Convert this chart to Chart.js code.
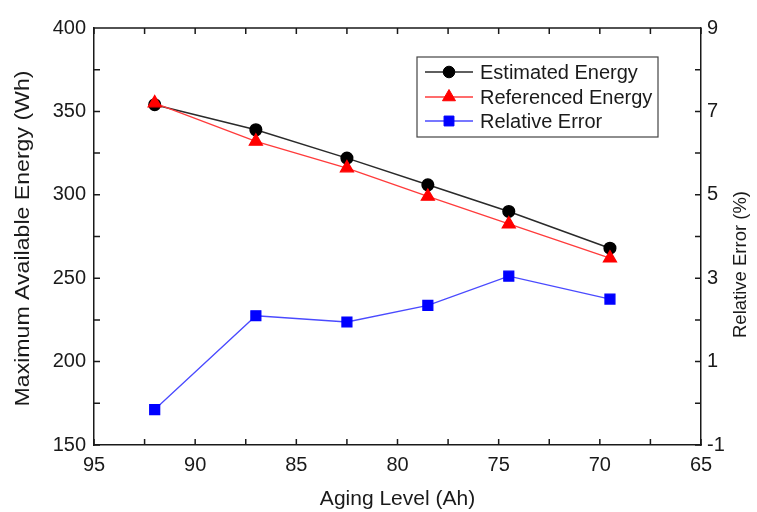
<!DOCTYPE html>
<html>
<head>
<meta charset="utf-8">
<script src="https://cdn.jsdelivr.net/npm/chart.js@4.4.1/dist/chart.umd.min.js"></script>
<style>
  html, body { margin: 0; padding: 0; background: #ffffff; }
  #wrap { width: 757px; height: 512px; }
</style>
</head>
<body>
<div id="wrap"><canvas id="chart" width="757" height="512"></canvas></div>
<script>
// Battery aging data: available energy and estimation error per aging level
const agingLevel       = [92, 87, 82.5, 78.5, 74.5, 69.5];
const estimatedEnergy  = [354, 339, 322, 306, 290, 268];
const referencedEnergy = [355, 332, 316, 299, 282.5, 262];
const relativeError    = [-0.15, 2.1, 1.95, 2.35, 3.05, 2.5];

// Labelled tick values (other ticks are drawn unlabelled)
const xTickLabels      = [95, 90, 85, 80, 75, 70, 65];
const energyTickLabels = [150, 200, 250, 300, 350, 400];
const errorTickLabels  = [-1, 1, 3, 5, 7, 9];

const FONT = '"Liberation Sans", Arial, Helvetica, sans-serif';
const INK = '#1a1a1a';

const toPoints = ys => agingLevel.map((x, i) => ({ x, y: ys[i] }));

// Rotated (bottom-to-top) axis title
function verticalTitle(ctx, text, x, y, size, stretch) {
  ctx.save();
  ctx.fillStyle = INK;
  ctx.font = size + 'px ' + FONT;
  ctx.textAlign = 'center';
  ctx.textBaseline = 'middle';
  ctx.translate(x, y);
  ctx.rotate(-Math.PI / 2);
  ctx.scale(stretch, 1);
  ctx.fillText(text, 0, 0);
  ctx.restore();
}

// Inward tick marks on all four sides, the top frame line and the side titles
const frameTicks = {
  id: 'frameTicks',
  afterDraw(chart) {
    const { ctx, chartArea: a, scales } = chart;
    const len = 6;
    ctx.save();
    ctx.strokeStyle = INK;
    ctx.lineWidth = 1.5;
    ctx.beginPath();
    ctx.moveTo(a.left, a.top);
    ctx.lineTo(a.right, a.top);
    scales.x.ticks.forEach(t => {
      const px = scales.x.getPixelForValue(t.value);
      ctx.moveTo(px, a.bottom); ctx.lineTo(px, a.bottom - len);
      ctx.moveTo(px, a.top);    ctx.lineTo(px, a.top + len);
    });
    scales.y.ticks.forEach(t => {
      const py = scales.y.getPixelForValue(t.value);
      ctx.moveTo(a.left, py); ctx.lineTo(a.left + len, py);
    });
    scales.y1.ticks.forEach(t => {
      const py = scales.y1.getPixelForValue(t.value);
      ctx.moveTo(a.right, py); ctx.lineTo(a.right - len, py);
    });
    ctx.stroke();
    ctx.restore();

    const midY = (a.top + a.bottom) / 2;
    verticalTitle(ctx, scales.y.options.title.text, 23, midY + 2, 21, 1.1);
    verticalTitle(ctx, scales.y1.options.title.text, chart.width - 16, midY + 28, 18.5, 1);
  }
};

// Boxed legend inside the plot area
const boxLegend = {
  id: 'boxLegend',
  afterDraw(chart) {
    const { ctx } = chart;
    const box = { left: 417, top: 57, right: 658, bottom: 137 };
    const rowY = [72, 97, 121];
    ctx.save();
    ctx.fillStyle = '#ffffff';
    ctx.fillRect(box.left, box.top, box.right - box.left, box.bottom - box.top);
    ctx.strokeStyle = '#444444';
    ctx.lineWidth = 1.2;
    ctx.strokeRect(box.left, box.top, box.right - box.left, box.bottom - box.top);
    chart.data.datasets.forEach((ds, i) => {
      const y = rowY[i];
      ctx.strokeStyle = ds.borderColor;
      ctx.lineWidth = ds.borderWidth;
      ctx.beginPath();
      ctx.moveTo(425, y); ctx.lineTo(473, y);
      ctx.stroke();
      ctx.fillStyle = ds.pointBackgroundColor;
      ctx.strokeStyle = ds.pointBorderColor;
      ctx.lineWidth = 1;
      Chart.helpers.drawPoint(ctx, { pointStyle: ds.pointStyle, radius: ds.pointRadius, rotation: 0, borderWidth: 1 }, 449, y);
      ctx.fillStyle = INK;
      ctx.font = '20px ' + FONT;
      ctx.textAlign = 'left';
      ctx.textBaseline = 'middle';
      ctx.fillText(ds.label, 480, y + 1);
    });
    ctx.restore();
  }
};

new Chart(document.getElementById('chart'), {
  type: 'line',
  data: {
    datasets: [
      {
        label: 'Estimated Energy',
        data: toPoints(estimatedEnergy),
        yAxisID: 'y',
        borderColor: '#2a2a2a',
        borderWidth: 1.5,
        pointStyle: 'circle',
        pointRadius: 5.8,
        pointBackgroundColor: '#000000',
        pointBorderColor: '#000000',
        order: 2
      },
      {
        label: 'Referenced Energy',
        data: toPoints(referencedEnergy),
        yAxisID: 'y',
        borderColor: '#ff3b3b',
        borderWidth: 1.3,
        pointStyle: 'triangle',
        pointRadius: 7.5,
        pointBackgroundColor: '#ff0000',
        pointBorderColor: '#ff0000',
        order: 1
      },
      {
        label: 'Relative Error',
        data: toPoints(relativeError),
        yAxisID: 'y1',
        borderColor: '#4a4aff',
        borderWidth: 1.3,
        pointStyle: 'rect',
        pointRadius: 7,
        pointBackgroundColor: '#0000ff',
        pointBorderColor: '#0000ff',
        order: 0
      }
    ]
  },
  options: {
    responsive: false,
    animation: false,
    layout: { padding: { top: 28, left: 0, right: 0, bottom: 0 } },
    plugins: { legend: { display: false }, tooltip: { enabled: false } },
    elements: { line: { tension: 0 } },
    scales: {
      x: {
        type: 'linear',
        reverse: true,
        min: 65,
        max: 95,
        grid: { display: false, drawTicks: false },
        border: { display: true, color: INK, width: 1.5 },
        ticks: {
          stepSize: 2.5,
          autoSkip: false,
          maxRotation: 0,
          padding: 8,
          color: INK,
          font: { family: FONT, size: 20 },
          callback: v => xTickLabels.includes(v) ? String(v) : ''
        },
        title: {
          display: true,
          text: 'Aging Level (Ah)',
          color: INK,
          font: { family: FONT, size: 21 },
          padding: { top: 0, bottom: 0 }
        },
        afterFit: s => { s.height = 67; }
      },
      y: {
        type: 'linear',
        position: 'left',
        min: 150,
        max: 400,
        grid: { display: false, drawTicks: false },
        border: { display: true, color: INK, width: 1.5 },
        ticks: {
          stepSize: 25,
          autoSkip: false,
          padding: 8,
          color: INK,
          font: { family: FONT, size: 20 },
          callback: v => energyTickLabels.includes(v) ? String(v) : ''
        },
        title: { display: false, text: 'Maximum Available Energy (Wh)' },
        afterFit: s => { s.width = 94; }
      },
      y1: {
        type: 'linear',
        position: 'right',
        min: -1,
        max: 9,
        grid: { display: false, drawTicks: false },
        border: { display: true, color: INK, width: 1.5 },
        ticks: {
          stepSize: 1,
          autoSkip: false,
          padding: 6,
          color: INK,
          font: { family: FONT, size: 20 },
          callback: v => errorTickLabels.includes(v) ? String(v) : ''
        },
        title: { display: false, text: 'Relative Error (%)' },
        afterFit: s => { s.width = 56; }
      }
    }
  },
  plugins: [frameTicks, boxLegend]
});
</script>
</body>
</html>
